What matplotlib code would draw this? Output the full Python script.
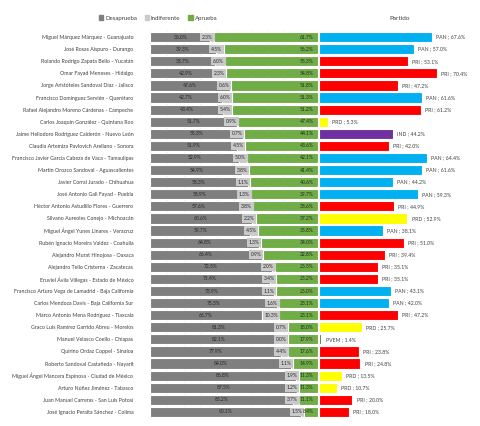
import matplotlib
matplotlib.use("Agg")
import matplotlib.pyplot as plt
from matplotlib.patches import Patch

plt.rcParams['font.family'] = ['Lato', 'DejaVu Sans']

names = [
    "Miguel Márquez Márquez - Guanajuato",
    "José Rosas Aispuro - Durango",
    "Rolando Rodrigo Zapata Bello - Yucatán",
    "Omar Fayad Meneses - Hidalgo",
    "Jorge Aristóteles Sandoval Díaz - Jalisco",
    "Francisco Domínguez Servién - Querétaro",
    "Rafael Alejandro Moreno Cárdenas - Campeche",
    "Carlos Joaquín González - Quintana Roo",
    "Jaime Heliodoro Rodríguez Calderón - Nuevo León",
    "Claudia Artemiza Pavlovich Arellano - Sonora",
    "Francisco Javier García Cabeza de Vaca - Tamaulipas",
    "Martín Orozco Sandoval - Aguascalientes",
    "Javier Corral Jurado - Chihuahua",
    "José Antonio Gali Fayad - Puebla",
    "Héctor Antonio Astudillo Flores - Guerrero",
    "Silvano Aureoles Conejo - Michoacán",
    "Miguel Ángel Yunes Linares - Veracruz",
    "Rubén Ignacio Moreira Valdez - Coahuila",
    "Alejandro Murat Hinojosa - Oaxaca",
    "Alejandro Tello Cristerna - Zacatecas",
    "Eruviel Ávila Villegas - Estado de México",
    "Francisco Arturo Vega de Lamadrid - Baja California",
    "Carlos Mendoza Davis - Baja California Sur",
    "Marco Antonio Mena Rodríguez - Tlaxcala",
    "Graco Luis Ramírez Garrido Abreu - Morelos",
    "Manuel Velasco Coello - Chiapas",
    "Quirino Ordaz Coppel - Sinaloa",
    "Roberto Sandoval Castañeda - Nayarit",
    "Miguel Ángel Mancera Espinosa - Ciudad de México",
    "Arturo Núñez Jiménez - Tabasco",
    "Juan Manuel Carreras - San Luis Potosí",
    "José Ignacio Peralta Sánchez - Colima",
]

desaprueba = [36.0, 39.3, 38.7, 42.9, 47.6, 42.7, 43.4, 51.7, 55.3, 51.9, 52.9, 54.9,
              58.3, 58.9, 57.6, 60.6, 59.7, 64.8, 66.4, 72.5, 71.4, 73.9, 75.3, 66.7,
              81.3, 82.1, 77.9, 84.0, 86.8, 87.5, 85.2, 90.1]
indiferente = [2.3, 4.5, 6.0, 2.3, 0.6, 6.0, 5.4, 0.9, 0.7, 4.5, 5.0, 3.8,
               1.1, 1.3, 3.8, 2.2, 4.5, 1.3, 0.9, 2.0, 3.4, 1.1, 1.6, 10.3,
               0.7, 0.0, 4.4, 1.1, 1.9, 1.2, 3.7, 1.5]
aprueba = [61.7, 56.2, 55.3, 54.8, 51.8, 51.3, 51.2, 47.4, 44.1, 43.6, 42.1, 41.4,
           40.6, 39.7, 38.6, 37.2, 35.8, 34.0, 32.8, 25.5, 25.2, 25.0, 23.1, 23.1,
           18.0, 17.9, 17.6, 14.9, 11.3, 11.3, 11.1, 8.4]
partido = ["PAN", "PAN", "PRI", "PRI", "PRI", "PAN", "PRI", "PRD", "IND", "PRI", "PAN", "PAN",
           "PAN", "PAN", "PRI", "PRD", "PAN", "PRI", "PRI", "PRI", "PRI", "PAN", "PAN", "PRI",
           "PRD", "PVEM", "PRI", "PRI", "PRD", "PRD", "PRI", "PRI"]
voto = [67.6, 57.0, 53.1, 70.4, 47.2, 61.6, 61.2, 5.3, 44.2, 42.0, 64.4, 61.6,
        44.2, 59.3, 44.9, 52.9, 38.1, 51.0, 39.4, 35.1, 35.1, 43.1, 42.0, 47.2,
        25.7, 1.4, 23.8, 24.8, 13.5, 10.7, 20.0, 18.0]

party_colors = {"PAN": "#00b0f0", "PRI": "#ff0000", "PRD": "#ffff00",
                "IND": "#7030a0", "PVEM": "#548235"}
c_des, c_ind, c_apr = "#7f7f7f", "#c9c9c9", "#70ad47"
txt = "#404040"

W, H = 480, 426
fig = plt.figure(figsize=(W / 100, H / 100), dpi=100)

top_px, bot_px = 31, 418
axL = fig.add_axes([150 / W, (H - bot_px) / H, 168 / W, (bot_px - top_px) / H])
axR = fig.add_axes([319 / W, (H - bot_px) / H, 160 / W, (bot_px - top_px) / H])

n = len(names)
y = list(range(n))
h = 0.84

left2 = [d + i for d, i in zip(desaprueba, indiferente)]
axL.barh(y, desaprueba, height=h, color=c_des, edgecolor="white", linewidth=0.8, zorder=2)
axL.barh(y, indiferente, left=desaprueba, height=h, color=c_ind, edgecolor="white", linewidth=0.8, zorder=2)
axL.barh(y, aprueba, left=left2, height=h, color=c_apr, edgecolor="white", linewidth=0.8, zorder=2)

fs = 3.6
for i in range(n):
    axL.text(desaprueba[i] / 2, i, f"{desaprueba[i]:.1f}%", ha="center", va="center",
             fontsize=fs, color="#262626", zorder=4)
    axL.text(left2[i] - 0.8, i, f"{indiferente[i]:.1f}%", ha="right", va="center",
             fontsize=fs, color="#262626", zorder=4,
             bbox=dict(boxstyle="square,pad=0.35", facecolor=c_ind, edgecolor="none"))
    axL.text(100 - 2.5, i, f"{aprueba[i]:.1f}%", ha="right", va="center",
             fontsize=fs, color="#262626", zorder=4)

axL.set_xlim(0, 100)
axL.set_ylim(n - 0.5, -0.5)
axL.set_xticks(range(0, 101, 10))
axL.grid(axis="x", color="#e6e6e6", linewidth=0.5, zorder=0)
axL.tick_params(axis="x", length=0, labelbottom=False)
axL.set_yticks(y)
axL.set_yticklabels(names, fontsize=3.75, color=txt)
axL.tick_params(axis="y", length=0, pad=12)
for s in axL.spines.values():
    s.set_visible(False)

cols = [party_colors[p] for p in partido]
axR.barh(y, voto, height=h, color=cols, edgecolor="white", linewidth=0.8, zorder=2)
for i in range(n):
    axR.text(voto[i] + 2.5, i, f"{partido[i]} ; {voto[i]:.1f}%", ha="left", va="center",
             fontsize=3.7, color=txt, clip_on=False)
axR.set_xlim(0, 160 / 1.67)
axR.set_ylim(n - 0.5, -0.5)
axR.set_xticks([])
axR.set_yticks([])
for s in axR.spines.values():
    s.set_visible(False)

handles = [Patch(color=c_des, label="Desaprueba"),
           Patch(color=c_ind, label="Indiferente"),
           Patch(color=c_apr, label="Aprueba")]
fig.legend(handles=handles, loc="center", bbox_to_anchor=(158 / W, 1 - 18 / H), ncol=3,
           frameon=False, fontsize=4.4, handlelength=0.7, handleheight=0.7,
           handletextpad=0.3, columnspacing=1.3, labelcolor=txt)
fig.text(400 / W, 1 - 18 / H, "Partido", ha="center", va="center", fontsize=4.6, color=txt)

fig.savefig("out.png", dpi=100, facecolor="white")
